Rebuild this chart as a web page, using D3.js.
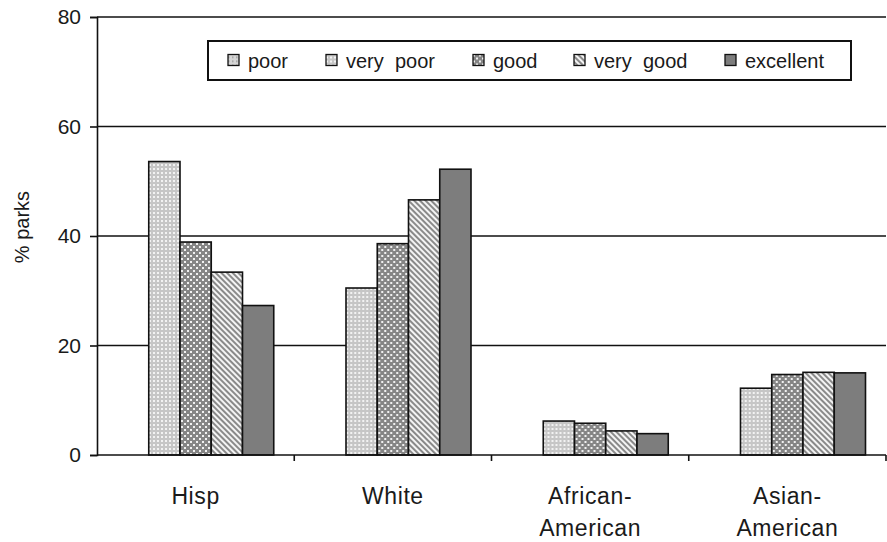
<!DOCTYPE html>
<html>
<head>
<meta charset="utf-8">
<script src="https://cdn.jsdelivr.net/npm/d3@7"></script>
<style>
  html, body { margin: 0; padding: 0; background: #fff; }
  svg { display: block; }
  text { font-family: "Liberation Sans", Arial, sans-serif; fill: #1a1a1a; }
</style>
</head>
<body>
<svg id="chart" width="887" height="542"></svg>
<script>
// Park condition ratings by neighbourhood ethnic group (% of parks)
const categories = ["Hisp", "White", "African-American", "Asian-American"];
const categoryLines = [["Hisp"], ["White"], ["African-", "American"], ["Asian-", "American"]];
const seriesNames = ["poor", "very poor", "good", "very good", "excellent"];
const poor      = [0, 0, 0, 0];
const veryPoor  = [53.6, 30.5, 6.2, 12.2];
const good      = [38.9, 38.6, 5.8, 14.7];
const veryGood  = [33.4, 46.6, 4.4, 15.1];
const excellent = [27.3, 52.2, 3.9, 15.0];
const yTicks = [0, 20, 40, 60, 80];

const seriesValues = [poor, veryPoor, good, veryGood, excellent];

// Layout
const W = 887, H = 542;
const plot = { left: 97, right: 886, top: 17, bottom: 455 };
const legendBox = { x: 208, y: 41, w: 643, h: 39 };
const legendItemX = [228, 326, 473, 574, 725];

const svg = d3.select("#chart");
const defs = svg.append("defs");

// Fill patterns for each rating
function dotPattern(id, bg, dot, size, dotSize, stagger) {
  const p = defs.append("pattern").attr("id", id)
    .attr("patternUnits", "userSpaceOnUse").attr("width", size).attr("height", size);
  p.append("rect").attr("width", size).attr("height", size).attr("fill", bg);
  p.append("rect").attr("x", 0).attr("y", 0).attr("width", dotSize).attr("height", dotSize).attr("fill", dot);
  if (stagger) {
    p.append("rect").attr("x", size / 2).attr("y", size / 2).attr("width", dotSize).attr("height", dotSize).attr("fill", dot);
  }
  return `url(#${id})`;
}
function stripePattern(id, a, b, size) {
  const p = defs.append("pattern").attr("id", id)
    .attr("patternUnits", "userSpaceOnUse").attr("width", size).attr("height", size)
    .attr("patternTransform", "rotate(-45)");
  p.append("rect").attr("width", size).attr("height", size).attr("fill", a);
  p.append("rect").attr("width", size / 2).attr("height", size).attr("fill", b);
  return `url(#${id})`;
}

const fills = [
  dotPattern("pat-poor", "#d6d6d6", "#9a9a9a", 4, 1.5, false),
  dotPattern("pat-verypoor", "#c6c6c6", "#f2f2f2", 4, 2, false),
  dotPattern("pat-good", "#858585", "#f0f0f0", 6, 2, true),
  stripePattern("pat-verygood", "#8a8a8a", "#f4f4f4", 4),
  "#7d7d7d"
];

// Scales
const y = d3.scaleLinear().domain([0, 80]).range([plot.bottom, plot.top]);
const x0 = d3.scaleBand().domain(categories).range([plot.left, plot.right]).paddingInner(0).paddingOuter(0);
const x1 = d3.scaleBand().domain(seriesNames).range([0, x0.bandwidth()]).paddingInner(0).paddingOuter(0.656);

// Gridlines
svg.append("g").selectAll("line").data(yTicks.filter(d => d > 0)).join("line")
  .attr("x1", plot.left).attr("x2", plot.right)
  .attr("y1", d => y(d)).attr("y2", d => y(d))
  .attr("stroke", "#111").attr("stroke-width", 1.6);

// Bars
const rows = categories.map((c, i) => ({ cat: c, vals: seriesNames.map((s, j) => ({ s, j, v: seriesValues[j][i] })) }));
svg.append("g").selectAll("g").data(rows).join("g")
  .attr("transform", d => `translate(${x0(d.cat)},0)`)
  .selectAll("rect").data(d => d.vals.filter(v => v.v > 0)).join("rect")
  .attr("x", d => x1(d.s))
  .attr("y", d => y(d.v))
  .attr("width", x1.bandwidth())
  .attr("height", d => y(0) - y(d.v))
  .attr("fill", d => fills[d.j])
  .attr("stroke", "#111").attr("stroke-width", 1.6);

// Y axis
const yAxis = svg.append("g").attr("transform", `translate(${plot.left},0)`)
  .call(d3.axisLeft(y).tickValues(yTicks).tickSize(7).tickPadding(9).tickFormat(d3.format("d")));
yAxis.select(".domain").attr("stroke", "#111").attr("stroke-width", 1.6);
yAxis.selectAll(".tick line").attr("stroke", "#111").attr("stroke-width", 1.6);
yAxis.selectAll(".tick text").attr("font-size", 21).attr("font-family", "Liberation Sans, Arial, sans-serif").attr("fill", "#1a1a1a");

// X axis baseline with ticks at category boundaries
const bounds = categories.map(c => x0(c)).concat([plot.right]);
svg.append("line").attr("x1", plot.left).attr("x2", plot.right)
  .attr("y1", y(0)).attr("y2", y(0)).attr("stroke", "#111").attr("stroke-width", 1.6);
svg.append("g").selectAll("line").data(bounds.slice(1)).join("line")
  .attr("x1", d => d).attr("x2", d => d)
  .attr("y1", y(0)).attr("y2", y(0) + 6)
  .attr("stroke", "#111").attr("stroke-width", 1.6);

// Category labels
const catG = svg.append("g").selectAll("text").data(categories).join("text")
  .attr("x", d => x0(d) + x0.bandwidth() / 2)
  .attr("y", 504)
  .attr("text-anchor", "middle")
  .attr("font-size", 23)
  .attr("letter-spacing", 0.6);
catG.selectAll("tspan").data((d, i) => categoryLines[i]).join("tspan")
  .attr("x", function () { return d3.select(this.parentNode).attr("x"); })
  .attr("dy", (d, i) => i === 0 ? 0 : 32)
  .text(d => d);

// Y axis title
svg.append("text")
  .attr("transform", `translate(29,${(plot.top + plot.bottom) / 2 - 9}) rotate(-90)`)
  .attr("text-anchor", "middle")
  .attr("font-size", 20)
  .text("% parks");

// Legend
svg.append("rect").attr("x", legendBox.x).attr("y", legendBox.y)
  .attr("width", legendBox.w).attr("height", legendBox.h)
  .attr("fill", "#fff").attr("stroke", "#111").attr("stroke-width", 2);
const leg = svg.append("g").selectAll("g").data(seriesNames).join("g")
  .attr("transform", (d, i) => `translate(${legendItemX[i]},${legendBox.y + legendBox.h / 2})`);
leg.append("rect").attr("x", 0).attr("y", -6).attr("width", 11).attr("height", 11)
  .attr("fill", (d, i) => fills[i]).attr("stroke", "#111").attr("stroke-width", 1.3);
leg.append("text").attr("x", 20).attr("y", 7).attr("font-size", 20)
  .attr("xml:space", "preserve")
  .text(d => d.replace(" ", "\u00a0 "));
</script>
</body>
</html>
